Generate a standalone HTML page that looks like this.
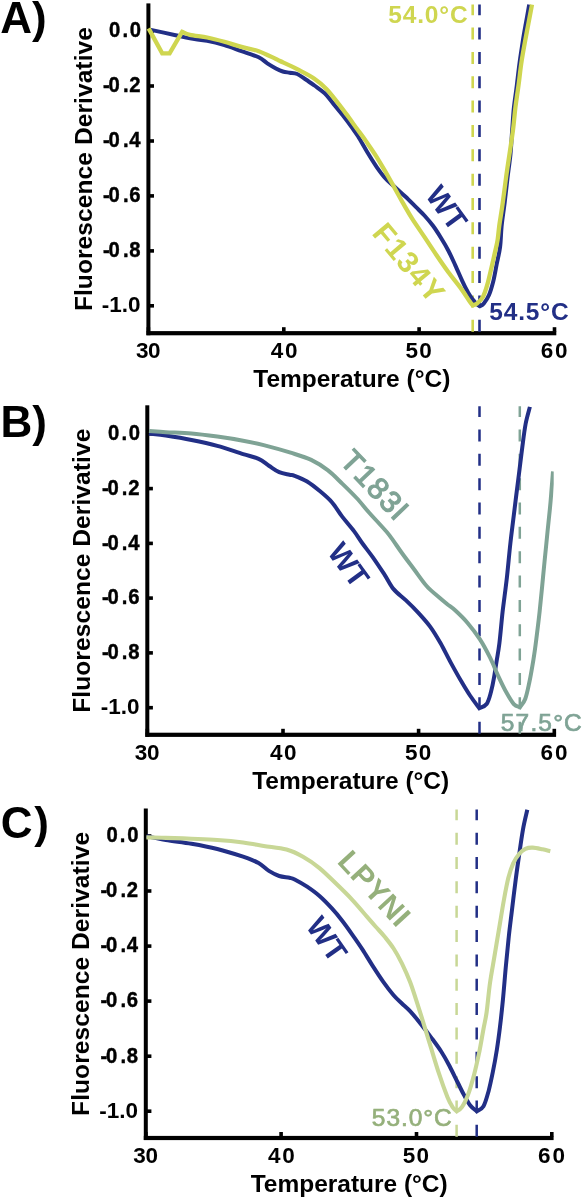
<!DOCTYPE html>
<html><head><meta charset="utf-8"><title>Fluorescence Derivative</title>
<style>html,body{margin:0;padding:0;background:#fff;overflow:hidden}svg{display:block;filter:blur(0.4px)}svg text{font-family:"Liberation Sans",sans-serif}</style></head><body>
<svg width="582" height="1199" viewBox="0 0 582 1199">
<rect width="582" height="1199" fill="#fff"/>
<g  font-weight="bold" font-size="44" fill="#000">
<text x="0.3" y="33.4">A)</text>
<text x="0.6" y="436.8">B)</text>
<text x="0.7 34.2" y="838.4">C)</text>
</g>
<rect x="146.4" y="3.4" width="4" height="331.8" fill="#000"/>
<rect x="146.4" y="331.1" width="409.9" height="4.2" fill="#000"/>
<rect x="148.4" y="29.2" width="5.6" height="3.6" fill="#000"/>
<rect x="148.4" y="84.2" width="5.6" height="3.6" fill="#000"/>
<rect x="148.4" y="139.2" width="5.6" height="3.6" fill="#000"/>
<rect x="148.4" y="194.1" width="5.6" height="3.6" fill="#000"/>
<rect x="148.4" y="249.1" width="5.6" height="3.6" fill="#000"/>
<rect x="148.4" y="304.0" width="5.6" height="3.6" fill="#000"/>
<rect x="146.6" y="327.2" width="3.6" height="4.5" fill="#000"/>
<rect x="282.0" y="327.2" width="3.6" height="4.5" fill="#000"/>
<rect x="417.3" y="327.2" width="3.6" height="4.5" fill="#000"/>
<rect x="552.7" y="327.2" width="3.6" height="4.5" fill="#000"/>
<g font-weight="bold" font-size="22.5" fill="#000"><g transform="scale(0.90,1)" stroke="#000" stroke-width="0.45"><text x="121.2 136.1 144.2" y="37.5">0.0</text>
<text x="114.4 120.7 136.7 143.7" y="92.4">-0.2</text>
<text x="114.4 120.7 136.7 143.7" y="147.4">-0.4</text>
<text x="114.4 120.7 136.7 143.7" y="202.3">-0.6</text>
<text x="114.4 120.7 136.7 143.7" y="257.2">-0.8</text></g><text x="140.6" y="312.2" text-anchor="end">-1.0</text></g>
<g  font-weight="bold" font-size="22.5" fill="#000"><text x="135.9 148.1" y="358.2">30</text>
<text x="270.7 284.9" y="358.2">40</text>
<text x="405.5 419.3" y="358.2">50</text>
<text x="540.8 555.1" y="358.2">60</text></g>
<text x="253.3" y="387.4" textLength="197" lengthAdjust="spacing"  font-weight="bold" font-size="24.5">Temperature (°C)</text>
<text transform="translate(91.6,311.1) rotate(-90)" x="0" y="0" textLength="284" lengthAdjust="spacing"  font-weight="bold" font-size="24.5">Fluorescence Derivative</text>
<line x1="479.5" y1="4.4" x2="479.5" y2="333.2" stroke="#222f86" stroke-width="2.6" stroke-dasharray="12 12.35" stroke-dashoffset="1.2"/>
<line x1="472.7" y1="4.4" x2="472.7" y2="333.2" stroke="#cfd650" stroke-width="2.6" stroke-dasharray="12 12.35" stroke-dashoffset="1.2"/>
<path d="M149.8,29.6 C154.1,30.5 168.9,33.7 175.6,35.2 C182.3,36.7 184.7,37.5 190.0,38.4 C195.3,39.3 201.5,39.8 207.2,40.9 C212.9,42.0 218.7,43.5 224.4,45.2 C230.1,46.9 235.8,49.2 241.5,51.2 C247.2,53.2 254.4,55.3 258.7,57.3 C263.0,59.3 264.4,61.4 267.3,63.3 C270.2,65.2 273.3,67.0 275.9,68.4 C278.5,69.8 280.5,70.8 282.8,71.5 C285.1,72.2 287.3,72.3 289.7,72.7 C292.1,73.1 294.5,72.9 297.2,74.0 C299.9,75.1 302.9,77.6 305.8,79.5 C308.7,81.4 311.2,83.2 314.4,85.5 C317.5,87.8 321.5,90.3 324.7,93.3 C327.9,96.3 330.2,99.9 333.3,103.6 C336.4,107.3 339.9,111.6 343.0,115.6 C346.1,119.6 349.5,124.1 352.0,127.6 C354.5,131.1 355.4,132.1 358.0,136.3 C360.6,140.5 364.4,147.4 367.5,152.6 C370.6,157.8 373.9,163.0 376.9,167.3 C379.9,171.6 382.2,174.8 385.5,178.4 C388.8,182.0 393.4,185.7 396.7,188.7 C400.0,191.7 402.1,193.5 405.3,196.5 C408.5,199.5 412.6,203.7 415.8,206.9 C419.0,210.1 421.5,212.3 424.4,215.5 C427.3,218.7 430.1,221.9 433.0,225.8 C435.9,229.7 438.9,234.5 441.5,238.7 C444.1,242.8 446.1,246.3 448.4,250.7 C450.7,255.1 453.0,260.3 455.3,265.3 C457.6,270.3 460.1,276.2 462.2,280.8 C464.3,285.4 466.5,289.7 468.2,292.8 C469.9,295.9 471.2,297.4 472.6,299.3 C474.1,301.2 475.7,303.2 476.9,304.4 C478.1,305.5 479.4,305.9 479.9,306.2 C480.5,305.8 482.3,305.5 483.8,303.6 C485.3,301.7 487.4,298.7 489.0,295.0 C490.6,291.3 492.0,286.3 493.3,281.2 C494.6,276.1 495.6,269.8 496.7,264.1 C497.8,258.4 499.3,253.2 500.1,246.9 C500.9,240.6 500.9,233.4 501.6,226.2 C502.3,219.0 503.5,211.9 504.5,203.9 C505.5,195.9 506.5,186.3 507.5,178.0 C508.5,169.7 509.7,162.0 510.5,154.0 C511.3,146.0 511.6,137.8 512.2,130.0 C512.8,122.2 513.1,114.9 513.9,107.5 C514.7,100.1 515.9,92.8 516.8,85.4 C517.7,78.0 518.5,70.6 519.5,63.2 C520.5,55.8 521.8,47.7 522.8,41.1 C523.8,34.5 524.7,29.8 525.8,23.7 C526.9,17.6 528.6,7.9 529.2,4.7" fill="none" stroke="#222f86" stroke-width="4.0" stroke-linejoin="miter" stroke-miterlimit="3" stroke-linecap="butt"/>
<path d="M148.6,28.4 L162.2,53.3 L169.6,53.3 L182.1,31.8 C183.4,32.3 185.8,33.9 190.0,34.9 C194.2,35.9 201.5,36.4 207.2,37.5 C212.9,38.6 218.7,40.2 224.4,41.8 C230.1,43.4 235.8,45.3 241.5,46.9 C247.2,48.5 253.0,49.2 258.7,51.2 C264.4,53.2 272.3,57.4 275.9,59.0 C279.4,60.6 276.4,59.3 280.0,61.0 C283.6,62.7 291.5,66.2 297.2,69.2 C302.9,72.2 309.5,75.4 314.4,78.7 C319.3,82.0 322.4,84.8 326.4,89.0 C330.4,93.2 334.7,98.9 338.4,103.6 C342.1,108.3 345.5,113.0 348.7,117.3 C351.9,121.6 354.4,125.4 357.3,129.3 C360.2,133.2 362.7,136.4 365.8,140.9 C368.9,145.4 372.7,150.7 376.1,156.1 C379.5,161.5 383.2,167.9 386.4,173.3 C389.5,178.7 392.1,183.5 395.0,188.7 C397.9,193.8 400.7,199.2 403.6,204.2 C406.5,209.2 408.8,213.4 412.3,218.9 C415.8,224.4 420.4,230.9 424.4,236.9 C428.4,242.9 432.4,249.1 436.4,255.0 C440.4,260.9 444.4,266.8 448.4,272.2 C452.4,277.6 456.9,282.9 460.4,287.6 C463.9,292.4 467.2,297.8 469.2,300.7 C471.2,303.6 472.0,304.5 472.6,305.3 C473.3,305.0 475.2,305.0 476.9,303.6 C478.6,302.2 481.3,299.9 483.0,296.7 C484.7,293.5 485.9,289.6 487.3,284.7 C488.7,279.8 490.2,272.9 491.5,267.5 C492.8,262.1 494.0,256.6 495.0,252.0 C496.0,247.4 496.9,244.3 497.6,240.0 C498.3,235.7 498.4,232.2 499.2,226.2 C500.0,220.2 501.5,211.9 502.6,203.9 C503.7,195.9 504.9,186.3 506.0,178.0 C507.1,169.7 508.3,162.0 509.5,154.0 C510.7,146.0 512.0,137.8 513.0,130.0 C514.0,122.2 514.5,114.9 515.4,107.5 C516.3,100.1 517.5,92.8 518.5,85.4 C519.5,78.0 520.2,70.6 521.3,63.2 C522.4,55.8 523.9,47.7 525.1,41.1 C526.3,34.5 527.2,29.8 528.4,23.7 C529.5,17.6 531.4,7.9 532.0,4.7" fill="none" stroke="#cfd650" stroke-width="4.3" stroke-linejoin="miter" stroke-miterlimit="3" stroke-linecap="butt"/>
<text transform="translate(424.5,195.2) rotate(54.0)" font-size="30" font-weight="bold" fill="#222f86">WT</text>
<text transform="translate(371.0,233.8) rotate(50.0)" font-size="30" font-weight="bold" fill="#cfd650" letter-spacing="1.05">F134Y</text>
<text x="388.2" y="23.1" textLength="79.5" lengthAdjust="spacing"  font-size="24.5" font-weight="bold" fill="#cfd650">54.0°C</text>
<text x="489.2" y="319.9" textLength="79.5" lengthAdjust="spacing"  font-size="24.5" font-weight="bold" fill="#222f86">54.5°C</text>
<rect x="145.3" y="405.3" width="4" height="331.5" fill="#000"/>
<rect x="145.3" y="732.7" width="410.8" height="4.2" fill="#000"/>
<rect x="147.3" y="432.0" width="5.6" height="3.6" fill="#000"/>
<rect x="147.3" y="486.8" width="5.6" height="3.6" fill="#000"/>
<rect x="147.3" y="541.6" width="5.6" height="3.6" fill="#000"/>
<rect x="147.3" y="596.3" width="5.6" height="3.6" fill="#000"/>
<rect x="147.3" y="651.1" width="5.6" height="3.6" fill="#000"/>
<rect x="147.3" y="705.9" width="5.6" height="3.6" fill="#000"/>
<rect x="145.5" y="728.8" width="3.6" height="4.5" fill="#000"/>
<rect x="281.2" y="728.8" width="3.6" height="4.5" fill="#000"/>
<rect x="416.8" y="728.8" width="3.6" height="4.5" fill="#000"/>
<rect x="552.5" y="728.8" width="3.6" height="4.5" fill="#000"/>
<g font-weight="bold" font-size="22.5" fill="#000"><g transform="scale(0.90,1)" stroke="#000" stroke-width="0.45"><text x="120.0 134.9 143.0" y="440.2">0.0</text>
<text x="113.2 119.4 135.4 142.4" y="495.0">-0.2</text>
<text x="113.2 119.4 135.4 142.4" y="549.8">-0.4</text>
<text x="113.2 119.4 135.4 142.4" y="604.5">-0.6</text>
<text x="113.2 119.4 135.4 142.4" y="659.3">-0.8</text></g><text x="139.5" y="714.1" text-anchor="end">-1.0</text></g>
<g  font-weight="bold" font-size="22.5" fill="#000"><text x="134.8 147.0" y="759.8">30</text>
<text x="269.9 284.1" y="759.8">40</text>
<text x="405.0 418.8" y="759.8">50</text>
<text x="540.6 554.9" y="759.8">60</text></g>
<text x="252.2" y="789.0" textLength="197" lengthAdjust="spacing"  font-weight="bold" font-size="24.5">Temperature (°C)</text>
<text transform="translate(90.4,712.7) rotate(-90)" x="0" y="0" textLength="284" lengthAdjust="spacing"  font-weight="bold" font-size="24.5">Fluorescence Derivative</text>
<line x1="479.5" y1="406.3" x2="479.5" y2="734.8" stroke="#222f86" stroke-width="2.5" stroke-dasharray="12 12.35" stroke-dashoffset="1.2"/>
<line x1="519.8" y1="406.3" x2="519.8" y2="734.8" stroke="#7fa395" stroke-width="2.5" stroke-dasharray="12 12.35" stroke-dashoffset="1.2"/>
<path d="M149.0,433.5 C151.8,433.9 158.7,434.5 165.8,435.6 C172.9,436.7 182.9,438.3 191.5,440.0 C200.1,441.7 208.7,443.5 217.3,445.9 C225.9,448.2 236.2,452.0 243.1,454.1 C250.0,456.2 254.3,456.9 258.6,458.8 C262.9,460.7 265.5,463.5 268.9,465.7 C272.3,467.9 275.8,470.7 279.2,472.2 C282.6,473.7 286.9,474.1 289.5,474.7 C292.1,475.3 291.8,474.7 294.7,475.8 C297.6,476.9 303.0,479.0 307.1,481.5 C311.2,484.0 315.4,487.4 319.5,490.8 C323.6,494.2 328.1,497.9 331.9,502.2 C335.7,506.5 338.5,511.8 342.2,516.6 C345.9,521.4 350.6,526.6 354.0,531.1 C357.4,535.6 359.4,539.2 362.5,543.5 C365.6,547.8 369.0,551.9 372.7,557.1 C376.4,562.3 381.0,569.3 384.5,574.6 C388.0,579.9 390.0,584.8 393.6,589.1 C397.2,593.4 401.9,596.5 406.0,600.4 C410.1,604.3 414.3,608.4 418.4,612.8 C422.4,617.2 426.6,621.7 430.3,626.8 C434.0,631.9 437.2,637.3 440.6,643.3 C444.0,649.3 447.5,656.7 450.9,662.9 C454.3,669.1 457.6,675.1 460.8,680.5 C464.0,685.9 466.9,690.9 470.0,695.5 C473.1,700.1 477.7,706.1 479.2,708.2 C480.4,707.5 484.7,706.7 486.6,704.0 C488.6,701.3 489.7,696.6 490.9,692.2 C492.1,687.8 493.1,682.9 494.0,677.7 C494.9,672.5 495.7,666.9 496.6,661.2 C497.5,655.5 498.4,651.5 499.4,643.3 C500.4,635.1 501.4,622.8 502.6,611.8 C503.9,600.8 505.6,589.0 506.9,577.5 C508.2,566.0 509.1,554.6 510.4,543.1 C511.7,531.6 513.2,520.1 514.6,508.7 C516.0,497.2 517.6,484.5 518.9,474.4 C520.2,464.3 521.1,456.5 522.2,448.1 C523.3,439.7 524.3,430.9 525.6,424.0 C526.9,417.1 529.2,409.8 529.9,406.9" fill="none" stroke="#222f86" stroke-width="4.0" stroke-linejoin="miter" stroke-miterlimit="3" stroke-linecap="butt"/>
<clipPath id="cb"><rect x="0" y="400" width="553.7" height="340"/></clipPath><g clip-path="url(#cb)"><path d="M149.0,430.9 C151.8,431.1 158.7,431.8 165.8,432.2 C172.9,432.6 182.9,432.8 191.5,433.5 C200.1,434.2 208.7,435.4 217.3,436.6 C225.9,437.8 235.4,439.3 243.1,440.7 C250.8,442.1 255.8,443.1 263.7,445.1 C271.6,447.1 282.7,450.2 290.6,452.7 C298.5,455.2 305.0,457.0 311.2,459.9 C317.4,462.8 322.5,466.2 327.7,470.2 C332.9,474.1 337.4,479.0 342.2,483.6 C347.0,488.2 352.1,493.2 356.6,498.0 C361.1,502.8 365.1,508.1 369.0,512.5 C372.9,516.9 376.6,520.7 380.0,524.5 C383.4,528.3 385.9,530.6 389.5,535.4 C393.1,540.1 397.8,547.3 401.9,553.0 C406.0,558.7 410.1,564.0 414.2,569.5 C418.3,575.0 422.5,581.4 426.6,586.0 C430.7,590.6 435.6,594.3 439.0,597.3 C442.4,600.3 444.3,601.8 447.0,604.0 C449.7,606.2 451.7,607.2 455.1,610.3 C458.5,613.4 463.3,617.9 467.4,622.7 C471.5,627.5 476.0,633.4 479.8,639.2 C483.6,645.0 487.0,651.5 490.1,657.7 C493.2,663.9 495.6,670.4 498.4,676.3 C501.1,682.1 504.0,688.2 506.6,692.8 C509.2,697.4 511.6,701.7 513.8,704.1 C516.0,706.5 519.0,706.7 520.0,707.2 C520.9,705.8 523.7,703.1 525.2,699.0 C526.8,694.9 527.9,689.0 529.3,682.5 C530.7,676.0 532.2,667.0 533.4,659.8 C534.6,652.6 535.3,647.3 536.3,639.3 C537.3,631.3 538.5,622.1 539.6,611.8 C540.7,601.5 541.9,589.0 543.0,577.5 C544.1,566.0 545.2,554.6 546.4,543.1 C547.5,531.6 549.0,517.5 549.9,508.7 C550.8,499.8 551.0,496.2 551.5,490.0 C552.0,483.8 552.8,474.6 553.0,471.5" fill="none" stroke="#7fa395" stroke-width="4.0" stroke-linejoin="miter" stroke-miterlimit="3" stroke-linecap="butt"/></g>
<text transform="translate(326.5,552.2) rotate(54.0)" font-size="30" font-weight="bold" fill="#222f86">WT</text>
<text transform="translate(338.8,462.0) rotate(46.5)" font-size="30" stroke="#7fa395" stroke-width="1.2" fill="#7fa395" letter-spacing="1.45">T183I</text>
<text x="500.8" y="731.2" textLength="81.0" lengthAdjust="spacing"  font-size="24.5" stroke="#7fa395" stroke-width="0.7" fill="#7fa395">57.5°C</text>
<rect x="143.8" y="808.5" width="4" height="331.5" fill="#000"/>
<rect x="143.8" y="1135.9" width="409.8" height="4.2" fill="#000"/>
<rect x="145.8" y="834.2" width="5.6" height="3.6" fill="#000"/>
<rect x="145.8" y="889.2" width="5.6" height="3.6" fill="#000"/>
<rect x="145.8" y="944.3" width="5.6" height="3.6" fill="#000"/>
<rect x="145.8" y="999.3" width="5.6" height="3.6" fill="#000"/>
<rect x="145.8" y="1054.4" width="5.6" height="3.6" fill="#000"/>
<rect x="145.8" y="1109.4" width="5.6" height="3.6" fill="#000"/>
<rect x="144.0" y="1132.0" width="3.6" height="4.5" fill="#000"/>
<rect x="279.3" y="1132.0" width="3.6" height="4.5" fill="#000"/>
<rect x="414.7" y="1132.0" width="3.6" height="4.5" fill="#000"/>
<rect x="550.0" y="1132.0" width="3.6" height="4.5" fill="#000"/>
<g font-weight="bold" font-size="22.5" fill="#000"><g transform="scale(0.90,1)" stroke="#000" stroke-width="0.45"><text x="118.3 133.2 141.3" y="842.4">0.0</text>
<text x="111.6 117.8 133.8 140.8" y="897.4">-0.2</text>
<text x="111.6 117.8 133.8 140.8" y="952.5">-0.4</text>
<text x="111.6 117.8 133.8 140.8" y="1007.5">-0.6</text>
<text x="111.6 117.8 133.8 140.8" y="1062.6">-0.8</text></g><text x="138.0" y="1117.6" text-anchor="end">-1.0</text></g>
<g  font-weight="bold" font-size="22.5" fill="#000"><text x="133.3 145.5" y="1163.0">30</text>
<text x="268.1 282.3" y="1163.0">40</text>
<text x="402.8 416.6" y="1163.0">50</text>
<text x="538.1 552.4" y="1163.0">60</text></g>
<text x="250.7" y="1192.2" textLength="197" lengthAdjust="spacing"  font-weight="bold" font-size="24.5">Temperature (°C)</text>
<text transform="translate(89.0,1115.9) rotate(-90)" x="0" y="0" textLength="284" lengthAdjust="spacing"  font-weight="bold" font-size="24.5">Fluorescence Derivative</text>
<line x1="476.7" y1="809.5" x2="476.7" y2="1138.0" stroke="#222f86" stroke-width="2.5" stroke-dasharray="12 12.35" stroke-dashoffset="1.2"/>
<line x1="456.6" y1="809.5" x2="456.6" y2="1138.0" stroke="#c8d796" stroke-width="2.5" stroke-dasharray="12 12.35" stroke-dashoffset="1.2"/>
<path d="M146.4,836.1 C149.6,836.8 158.3,838.7 165.8,840.0 C173.3,841.3 182.9,842.3 191.5,843.8 C200.1,845.3 208.7,846.9 217.3,849.0 C225.9,851.1 236.2,854.4 243.1,856.7 C250.0,859.1 254.3,860.7 258.6,863.1 C262.9,865.5 265.5,868.8 268.9,870.9 C272.3,873.0 275.8,874.9 279.2,876.0 C282.6,877.1 286.9,877.2 289.5,877.8 C292.1,878.4 291.8,878.0 294.7,879.5 C297.6,881.0 303.0,884.0 307.1,886.7 C311.2,889.5 315.4,892.4 319.5,896.0 C323.6,899.6 328.1,904.3 331.9,908.4 C335.7,912.5 338.8,916.3 342.2,920.7 C345.6,925.1 349.0,929.9 352.4,934.8 C355.8,939.7 359.3,944.6 362.7,949.9 C366.1,955.2 369.6,961.1 373.0,966.4 C376.4,971.7 379.9,977.1 383.3,981.9 C386.7,986.7 390.5,991.7 393.6,995.3 C396.7,998.9 399.1,1000.8 401.9,1003.5 C404.7,1006.2 407.2,1008.0 410.3,1011.4 C413.4,1014.8 417.2,1019.4 420.6,1023.7 C424.0,1028.0 427.5,1032.5 430.9,1037.1 C434.3,1041.7 438.1,1046.7 441.2,1051.5 C444.3,1056.3 446.8,1060.8 449.5,1066.0 C452.2,1071.2 455.3,1077.7 457.7,1082.5 C460.1,1087.3 461.8,1091.0 463.9,1094.8 C466.0,1098.6 468.0,1102.5 470.1,1105.2 C472.2,1108.0 475.6,1110.3 476.7,1111.3 C477.8,1110.5 481.5,1109.6 483.5,1106.2 C485.5,1102.8 487.1,1096.4 488.7,1090.7 C490.2,1085.0 491.4,1079.1 492.8,1072.2 C494.2,1065.3 495.7,1057.1 496.9,1049.5 C498.1,1041.9 499.0,1035.0 500.0,1026.8 C501.0,1018.5 501.9,1010.1 502.9,1000.0 C503.9,989.9 504.9,976.5 505.9,965.9 C506.9,955.3 507.8,946.0 508.8,936.6 C509.8,927.2 510.9,919.1 512.0,909.8 C513.1,900.4 514.4,889.9 515.6,880.5 C516.8,871.1 518.1,862.2 519.3,853.7 C520.5,845.2 521.7,836.6 523.0,829.3 C524.3,822.0 526.6,813.0 527.3,809.8" fill="none" stroke="#222f86" stroke-width="4.0" stroke-linejoin="miter" stroke-miterlimit="3" stroke-linecap="butt"/>
<path d="M146.4,837.4 C149.6,837.5 158.3,837.7 165.8,837.9 C173.3,838.1 182.9,838.4 191.5,838.7 C200.1,839.1 208.7,839.4 217.3,840.0 C225.9,840.6 235.4,841.5 243.1,842.5 C250.8,843.5 256.5,844.7 263.7,845.9 C270.9,847.1 279.9,847.8 286.5,849.6 C293.1,851.4 297.5,853.7 303.0,856.8 C308.5,859.9 314.0,863.6 319.5,868.1 C325.0,872.6 330.5,878.3 336.0,883.6 C341.5,888.9 347.4,894.6 352.5,900.1 C357.6,905.6 363.1,912.2 366.9,916.6 C370.7,921.0 372.6,923.2 375.5,926.5 C378.4,929.8 381.5,932.8 384.5,936.5 C387.5,940.2 390.7,944.0 393.6,948.5 C396.5,953.0 399.1,957.7 401.9,963.3 C404.6,968.9 407.7,975.7 410.1,981.9 C412.5,988.1 414.2,993.9 416.3,1000.4 C418.4,1006.9 420.3,1012.8 422.7,1020.6 C425.1,1028.4 428.1,1038.5 430.9,1047.4 C433.6,1056.3 436.4,1066.0 439.2,1074.2 C441.9,1082.5 445.2,1091.4 447.4,1096.9 C449.6,1102.4 451.1,1104.8 452.6,1107.2 C454.2,1109.6 456.0,1110.6 456.7,1111.3 C457.6,1110.6 460.0,1110.0 461.9,1107.2 C463.8,1104.5 465.9,1100.3 468.0,1094.8 C470.1,1089.3 472.3,1081.4 474.2,1074.2 C476.1,1067.0 477.8,1059.0 479.4,1051.5 C480.9,1044.0 482.3,1035.4 483.5,1028.9 C484.7,1022.4 485.5,1020.0 486.6,1012.4 C487.7,1004.8 488.6,992.8 490.0,983.0 C491.4,973.2 493.3,963.5 494.9,953.7 C496.5,943.9 498.3,933.4 499.8,924.4 C501.3,915.4 502.5,907.7 503.9,900.0 C505.3,892.3 506.8,884.2 508.3,878.1 C509.9,872.0 511.4,867.5 513.2,863.4 C515.0,859.3 517.3,856.1 519.3,853.7 C521.3,851.3 523.2,849.8 525.4,848.8 C527.6,847.8 529.9,847.5 532.7,847.6 C535.6,847.7 539.6,848.7 542.5,849.3 C545.4,849.9 549.0,850.9 550.3,851.2" fill="none" stroke="#c8d796" stroke-width="4.1" stroke-linejoin="miter" stroke-miterlimit="3" stroke-linecap="butt"/>
<text transform="translate(304.9,926.1) rotate(55.0)" font-size="30" font-weight="bold" fill="#222f86">WT</text>
<text transform="translate(336.2,862.2) rotate(47.3)" font-size="30" font-weight="bold" fill="#95b07b" letter-spacing="0.40">LPYNI</text>
<text x="371.8" y="1125.5" textLength="80.0" lengthAdjust="spacing"  font-size="24.5" stroke="#95b07b" stroke-width="0.7" fill="#95b07b">53.0°C</text>
</svg></body></html>
